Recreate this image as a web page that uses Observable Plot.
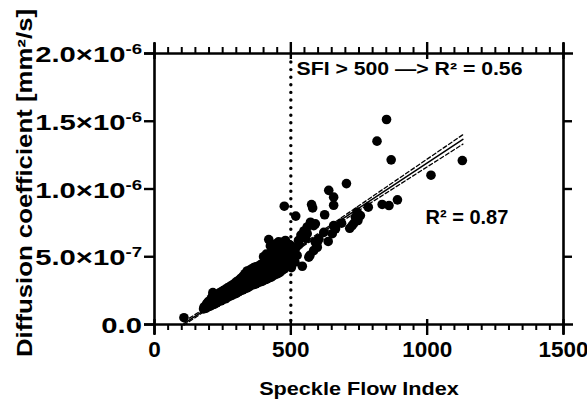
<!DOCTYPE html>
<html><head><meta charset="utf-8">
<script src="https://cdn.jsdelivr.net/npm/d3@7"></script>
<script src="https://cdn.jsdelivr.net/npm/@observablehq/plot@0.6"></script>
<style>body{margin:0;background:#fff;} svg{display:block}</style>
</head><body><div id="chart"></div>
<script>
// ---- data (SFI, diffusion coefficient in units of 1e-7 mm^2/s) ----
const pointsBelow500 = [
[108,0.5],
[180,1.15],[182,1.3],[188,1.2],[190,1.4],[196,1.3],[197,1.5],[198,1.7],[204,1.35],[205,1.6],
[212,1.45],[212,1.75],[212,2.05],[214,2.35],[220,1.5],[220,1.8],[228,1.6],[228,1.95],[228,2.2],
[236,1.7],[236,2.0],[236,2.3],[244,1.75],[244,2.1],[244,2.4],[252,1.85],[252,2.2],[252,2.5],
[260,1.9],[260,2.3],[260,2.6],[268,2.0],[268,2.35],[268,2.7],[276,2.1],[276,2.45],[276,2.8],
[284,2.15],[284,2.5],[284,2.9],[292,2.25],[292,2.65],[292,3.0],[300,2.3],[300,2.75],[300,3.15],
[308,2.4],[308,2.85],[308,3.25],[316,2.5],[316,2.95],[316,3.4],[324,2.55],[324,3.05],[324,3.55],
[332,2.65],[332,3.2],[332,3.75],[340,2.7],[340,3.3],[340,3.95],[348,2.8],[348,3.4],[348,4.0],
[356,2.9],[356,3.5],[356,4.1],[364,2.95],[364,3.6],[364,4.2],[372,3.0],[372,3.7],[372,4.25],
[380,3.1],[380,3.75],[380,4.3],[388,3.15],[388,3.85],[388,4.4],[396,3.2],[396,3.95],[396,4.5],
[404,3.3],[404,4.0],[404,4.6],[412,3.35],[412,4.1],[412,4.7],[420,3.45],[420,4.3],[420,5.0],
[419,6.27],[428,3.5],[428,4.4],[428,5.2],[431,5.46],[436,3.6],[436,4.5],[436,5.3],[444,3.7],[444,4.6],[444,5.5],
[450,6.0],[452,3.75],[452,4.7],[452,5.6],[460,3.85],[460,4.8],[462,5.46],[468,4.0],[468,4.9],[468,6.07],
[474,5.22],[476,4.1],[476,5.0],[476,8.73],[484,4.3],[484,5.1],[487,5.83],[492,4.45],[492,4.8],[499,5.34],[500,4.6],
[184,1.25],[192,1.3],[192,1.55],[200,1.45],[208,1.5],[208,1.9],[216,1.6],[216,1.95],[224,1.65],[224,2.05],
[232,1.8],[232,2.15],[240,1.85],[240,2.2],[248,1.95],[248,2.3],[256,2.05],[256,2.4],[264,2.15],[264,2.5],
[272,2.2],[272,2.6],[280,2.3],[280,2.7],[288,2.4],[288,2.8],[296,2.5],[296,2.9],[304,2.6],[304,3.0],
[312,2.7],[312,3.15],[320,2.8],[320,3.3],[328,2.9],[328,3.4],[336,3.0],[336,3.6],[344,3.1],[344,3.7],
[352,3.2],[352,3.8],[360,3.25],[360,3.9],[368,3.35],[368,4.0],[376,3.4],[376,4.05],[384,3.5],[384,4.15],
[392,3.55],[392,4.25],[400,3.6],[400,4.3],[408,3.7],[408,4.4],[416,3.75],[416,4.5],[424,3.9],[424,4.7],
[432,4.0],[432,4.8],[440,4.1],[440,5.0],[448,4.2],[448,5.1],[456,4.3],[456,5.2],[464,4.4],[464,5.3],
[472,4.5],[472,5.5],[480,4.6],[480,5.6],[488,4.7],[488,5.4],[496,4.9],[496,5.6],
[425,5.8],[440,5.9],[455,6.1],[480,6.2],[495,5.9],[410,5.2],[400,5.0]
];
const pointsAbove500 = [
[500,5.8],[505,5.3],[515,4.6],[502,4.2],
[505,4.72],[508,5.0],[512,5.4],[518,8.0],[520,5.7],[523,5.1],[528,6.2],[530,5.9],[537,6.6],[542,4.3],[548,6.9],
[554,6.4],[560,6.7],[560,7.2],[566,4.97],[570,5.1],[572,7.55],[576,8.85],[580,8.6],[584,5.46],[584,7.3],[590,6.07],[590,7.43],
[597,5.7],[597,6.07],[603,6.3],[621,6.8],[624,8.1],[637,6.13],[639,9.9],[652,6.7],[657,7.3],[657,8.8],[657,9.4],[664,7.06],
[686,7.48],[704,10.4],[716,7.1],[725,7.3],[731,7.47],[737,7.92],[743,8.29],[746,7.67],[755,8.04],[784,8.66],[835,8.86],[860,8.78],[891,9.2],
[816,13.53],[851,15.13],[868,12.15],[1014,11.02],[1129,12.1]
];
// linear fit and 95% confidence band (units 1e-7)
const fitX   = [108, 1131];
const fitY   = [0.06, 13.66];
const ciX    = [108, 250, 400, 550, 700, 900, 1131];
const ciHigh = [0.21, 2.03, 4.00, 6.03, 8.08, 10.83, 14.01];
const ciLow  = [-0.05, 1.87, 3.88, 5.85, 7.78, 10.35, 13.31];

const xMajor = [0, 500, 1000, 1500];
const xMinor = [50,100,150,200,250,300,350,400,450,550,600,650,700,750,800,850,900,950,
                1050,1100,1150,1200,1250,1300,1350,1400,1450];
const yTicks = [0, 5e-7, 1e-6, 1.5e-6, 2e-6];
const yRightTicks = [5e-7, 1e-6, 1.5e-6];
const yTickMantissa = ["0.0", "5.0×10", "1.0×10", "1.5×10", "2.0×10"];
const yTickExponent = ["", "-7", "-6", "-6", "-6"];
const sfiThreshold = [500];
const xTitle = "Speckle Flow Index";
const yTitle = "Diffusion coefficient [mm²/s]";
const annotations = [
  {text: "SFI > 500 —> R² = 0.56", sfi: 521, dc: 18.86, size: 18},
  {text: "R² = 0.87", sfi: 994, dc: 7.9, size: 20}
];

// ---- build ----
const W = 587, H = 403, mL = 154, mR = 24, mT = 53, mB = 79;
const FW = W - mL - mR, FH = H - mT - mB;
const E = 1e-7;
const dots = [...pointsBelow500, ...pointsAbove500].map(([x, y]) => ({sfi: x, dc: y * E}));
const fit = fitX.map((x, i) => ({sfi: x, dc: fitY[i] * E}));
const hi = ciX.map((x, i) => ({sfi: x, dc: ciHigh[i] * E}));
const lo = ciX.map((x, i) => ({sfi: x, dc: ciLow[i] * E}));
const ann = annotations.map(a => ({...a, dcv: a.dc * E}));

const plot = Plot.plot({
  width: W, height: H, marginLeft: mL, marginRight: mR, marginTop: mT, marginBottom: mB,
  x: {domain: [0, 1500], axis: null},
  y: {domain: [0, 2e-6], axis: null},
  style: {fontFamily: "'Liberation Sans', Arial, sans-serif", fontWeight: "bold", background: "white", color: "black", overflow: "visible"},
  marks: [
    Plot.line(hi, {x: "sfi", y: "dc", stroke: "black", strokeWidth: 1.3, strokeDasharray: "4,2.5"}),
    Plot.line(lo, {x: "sfi", y: "dc", stroke: "black", strokeWidth: 1.3, strokeDasharray: "4,2.5"}),
    Plot.line(fit, {x: "sfi", y: "dc", stroke: "black", strokeWidth: 1.5}),
    Plot.dot(dots, {x: "sfi", y: "dc", r: 4.8, fill: "black"}),
    Plot.ruleX(sfiThreshold, {stroke: "black", strokeWidth: 3.4, strokeDasharray: "0,7.6", strokeLinecap: "round", insetTop: 9, insetBottom: 2}),
    // frame lines
    Plot.ruleY([0, 2e-6], {stroke: "black", strokeWidth: 2.6, insetLeft: -10, insetRight: -10}),
    Plot.ruleX([0, 1500], {stroke: "black", strokeWidth: 2.6, insetTop: -10, insetBottom: -10}),
    // ticks
    Plot.ruleX(xMinor, {stroke: "black", strokeWidth: 2, insetTop: FH, insetBottom: -6}),
    Plot.ruleX(xMajor, {stroke: "black", strokeWidth: 2.4, insetTop: FH - 5, insetBottom: -11}),
    Plot.ruleX(xMinor, {stroke: "black", strokeWidth: 2, insetTop: -6, insetBottom: FH}),
    Plot.ruleX(xMajor, {stroke: "black", strokeWidth: 2.4, insetTop: -11, insetBottom: FH - 6}),
    Plot.ruleY(yTicks, {stroke: "black", strokeWidth: 2.4, insetLeft: -10, insetRight: FW}),
    Plot.ruleY(yRightTicks, {stroke: "black", strokeWidth: 2.4, insetLeft: FW, insetRight: -9}),
    // tick labels & titles
    Plot.text(xMajor, {x: d => d, text: d => String(d), frameAnchor: "bottom", dy: 32, fontSize: 22.5, fontWeight: "bold"}),
    Plot.text([xTitle], {frameAnchor: "bottom", dy: 70, fontSize: 19, fontWeight: "bold"}),
    Plot.text([yTitle], {frameAnchor: "left", textAnchor: "middle", rotate: -90, dx: -129, dy: -6, fontSize: 21.5, fontWeight: "bold"}),
    Plot.text(ann, {x: "sfi", y: "dcv", text: "text", fontSize: d => d.size, textAnchor: "start", fontWeight: "bold"})
  ]
});

// y tick labels with superscript exponents
const ys = plot.scale("y");
const gy = d3.select(plot).append("g").style("font-size", "22px").style("font-weight", "bold").attr("fill", "black");
yTicks.forEach((v, i) => {
  const t = gy.append("text").attr("text-anchor", "end")
    .attr("transform", `translate(142,${ys.apply(v) + 9}) scale(1.33,1)`);
  t.append("tspan").text(yTickMantissa[i]);
  if (yTickExponent[i]) t.append("tspan").style("font-size", "14px").attr("dy", -8).text(yTickExponent[i]);
});

document.getElementById("chart").appendChild(plot);

// widen texts about an anchor (the reference glyphs are broader)
function widen(label, sx, sy, anchor) {
  d3.select(plot).selectAll("text").filter(function() { return this.textContent === label; }).each(function() {
    const wrap = document.createElementNS("http://www.w3.org/2000/svg", "g");
    this.parentNode.insertBefore(wrap, this);
    wrap.appendChild(this);
    const bb = wrap.getBBox();
    const cx = anchor === "left" ? bb.x : bb.x + bb.width / 2, cy = bb.y + bb.height / 2;
    wrap.setAttribute("transform", `translate(${cx},${cy}) scale(${sx},${sy}) translate(${-cx},${-cy})`);
  });
}
widen(xTitle, 1.14, 1, "center");
widen(yTitle, 1, 1.2, "center");
widen(annotations[0].text, 1.18, 1, "left");
</script>
</body></html>
